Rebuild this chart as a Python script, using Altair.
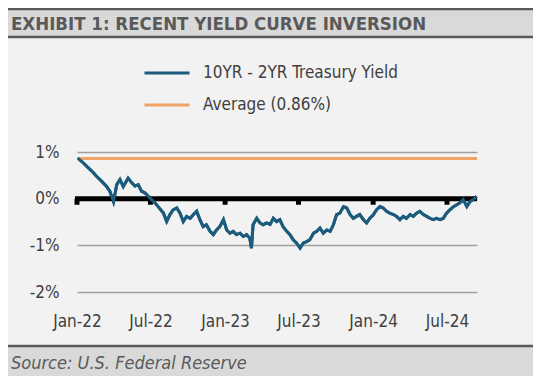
import altair as alt
import pandas as pd

# ---- data ----
dates = [
    "2022-01-03", "2022-01-16", "2022-01-29", "2022-02-10", "2022-02-18", "2022-03-03",
    "2022-03-15", "2022-03-23", "2022-04-01", "2022-04-09", "2022-04-17", "2022-04-25",
    "2022-05-07", "2022-05-16", "2022-05-24", "2022-06-01", "2022-06-09", "2022-06-18",
    "2022-06-30", "2022-07-12", "2022-07-20", "2022-08-02", "2022-08-10", "2022-08-18",
    "2022-08-26", "2022-09-04", "2022-09-12", "2022-09-20", "2022-09-28", "2022-10-07",
    "2022-10-15", "2022-10-23", "2022-10-31", "2022-11-08", "2022-11-16", "2022-11-25",
    "2022-12-03", "2022-12-11", "2022-12-19", "2022-12-28", "2023-01-05", "2023-01-13",
    "2023-01-21", "2023-01-29", "2023-02-07", "2023-02-15", "2023-02-23", "2023-03-03",
    "2023-03-07", "2023-03-11", "2023-03-20", "2023-03-28", "2023-04-05", "2023-04-13",
    "2023-04-22", "2023-04-30", "2023-05-08", "2023-05-16", "2023-05-24", "2023-06-02",
    "2023-06-10", "2023-06-18", "2023-06-26", "2023-07-05", "2023-07-13", "2023-07-21",
    "2023-07-29", "2023-08-07", "2023-08-15", "2023-08-23", "2023-08-31", "2023-09-09",
    "2023-09-17", "2023-09-25", "2023-10-03", "2023-10-11", "2023-10-20", "2023-10-28",
    "2023-11-05", "2023-11-13", "2023-11-21", "2023-11-29", "2023-12-08", "2023-12-16",
    "2023-12-24", "2024-01-01", "2024-01-09", "2024-01-18", "2024-01-26", "2024-02-03",
    "2024-02-11", "2024-02-20", "2024-02-28", "2024-03-07", "2024-03-15", "2024-03-23",
    "2024-04-01", "2024-04-09", "2024-04-17", "2024-04-25", "2024-05-04", "2024-05-12",
    "2024-05-20", "2024-05-28", "2024-06-05", "2024-06-14", "2024-06-22", "2024-06-30",
    "2024-07-08", "2024-07-17", "2024-07-25", "2024-08-02", "2024-08-10", "2024-08-19",
    "2024-08-27", "2024-09-04", "2024-09-12",
]
spread = [
    0.87, 0.77, 0.66, 0.56, 0.48, 0.37,
    0.26, 0.16, -0.06, 0.30, 0.41, 0.26,
    0.44, 0.34, 0.27, 0.30, 0.16, 0.12,
    0.01, -0.09, -0.17, -0.31, -0.49, -0.34,
    -0.24, -0.20, -0.31, -0.49, -0.38, -0.42,
    -0.34, -0.27, -0.45, -0.60, -0.56, -0.70,
    -0.77, -0.67, -0.60, -0.45, -0.67, -0.74,
    -0.70, -0.77, -0.74, -0.81, -0.77, -0.85,
    -1.06, -0.56, -0.42, -0.52, -0.56, -0.52,
    -0.55, -0.42, -0.49, -0.45, -0.60, -0.70,
    -0.77, -0.88, -0.95, -1.06, -0.95, -0.92,
    -0.88, -0.74, -0.70, -0.63, -0.74, -0.67,
    -0.70, -0.56, -0.34, -0.31, -0.17, -0.20,
    -0.34, -0.42, -0.38, -0.34, -0.45, -0.52,
    -0.42, -0.35, -0.24, -0.17, -0.20, -0.27,
    -0.31, -0.34, -0.38, -0.45, -0.38, -0.42,
    -0.34, -0.38, -0.31, -0.27, -0.34, -0.38,
    -0.42, -0.45, -0.42, -0.45, -0.42, -0.31,
    -0.24, -0.17, -0.13, -0.09, -0.02, -0.17,
    -0.06, -0.02, 0.05,
]
average_value = 0.86
tick_dates = ["2022-01-01", "2022-07-01", "2023-01-01", "2023-07-01", "2024-01-01", "2024-07-01"]
y_ticks = [-2, -1, 0, 1]
series_names = ["10YR - 2YR Treasury Yield", "Average (0.86%)"]
series_colors = ["#1d5b7c", "#f0a366"]
title_text = "EXHIBIT 1: RECENT YIELD CURVE INVERSION"
source_text = "Source: U.S. Federal Reserve"

FONT = "DejaVu Sans Condensed, Liberation Sans, sans-serif"
W, H = 400, 140
PAD_L, PAD_T = 69, 144
TOTAL_W, TOTAL_H = 525, 368

line_df = pd.DataFrame({"date": dates, "value": spread, "series": series_names[0]})
avg_df = pd.DataFrame({"value": [average_value], "series": [series_names[1]]})
tick_df = pd.DataFrame({"date": tick_dates})
one = pd.DataFrame({"k": [0]})

x_scale = alt.Scale(domain=["2022-01-01", "2024-09-13"], nice=False)
y_scale = alt.Scale(domain=[-2, 1], nice=False)
color_scale = alt.Scale(domain=series_names, range=series_colors)

legend = alt.Legend(
    title=None, orient="none", legendX=66, legendY=-103, direction="vertical",
    symbolType="stroke", symbolSize=2025, symbolStrokeWidth=3,
    labelFont=FONT, labelFontSize=17, labelColor="#404040", labelOffset=12,
    labelLimit=400, rowPadding=-15,
)

base_x = alt.X(
    "date:T", scale=x_scale, title=None,
    axis=alt.Axis(values=tick_dates, format="%b-%y", labelFont=FONT, labelFontSize=17,
                  labelColor="#404040", domain=False, ticks=False, grid=False,
                  labelPadding=21, labelFlush=False),
)
base_y = alt.Y(
    "value:Q", scale=y_scale, title=None,
    axis=alt.Axis(values=y_ticks, labelExpr="datum.value + '%'", labelFont=FONT,
                  labelFontSize=17, labelColor="#404040", domain=False, ticks=False,
                  grid=True, gridColor="#a0a0a0", gridWidth=1.5, labelPadding=18),
)

avg_rule = alt.Chart(avg_df).mark_rule(strokeWidth=3).encode(
    y=alt.Y("value:Q", scale=y_scale),
    color=alt.Color("series:N", scale=color_scale, legend=legend),
)

zero_rule = alt.Chart(one).mark_rule(color="black", strokeWidth=5).encode(
    y=alt.datum(0), x=alt.value(-2), x2=alt.value(W),
)

tick_marks = alt.Chart(tick_df).mark_rule(color="black", strokeWidth=5).encode(
    x=alt.X("date:T", scale=x_scale), y=alt.datum(0), y2=alt.datum(-0.13),
)

spread_line = alt.Chart(line_df).mark_line(strokeWidth=3).encode(
    x=base_x, y=base_y,
    color=alt.Color("series:N", scale=color_scale, legend=legend),
)

# decorative bands (header / footer)
head_band = alt.Chart(one).mark_rect(color="#d9d9d9").encode(
    x=alt.value(-PAD_L), x2=alt.value(TOTAL_W - PAD_L),
    y=alt.value(-PAD_T), y2=alt.value(-PAD_T + 30),
)
head_lines = alt.Chart(pd.DataFrame({"yy": [-PAD_T + 1, -PAD_T + 29]})).mark_rule(
    color="#595959", strokeWidth=2.5).encode(
    x=alt.value(-PAD_L), x2=alt.value(TOTAL_W - PAD_L), y=alt.Y("yy:Q", scale=None),
)
head_text = alt.Chart(one).mark_text(
    align="left", baseline="alphabetic", font=FONT, fontSize=18.5, fontWeight="bold",
    color="#595959").encode(
    x=alt.value(-PAD_L + 3), y=alt.value(-PAD_T + 22), text=alt.value(title_text),
)
foot_top = 193
foot_band = alt.Chart(one).mark_rect(color="#d9d9d9").encode(
    x=alt.value(-PAD_L), x2=alt.value(TOTAL_W - PAD_L),
    y=alt.value(foot_top), y2=alt.value(TOTAL_H - PAD_T),
)
foot_lines = alt.Chart(pd.DataFrame({"yy": [foot_top + 1]})).mark_rule(
    color="#595959", strokeWidth=2.5).encode(
    x=alt.value(-PAD_L), x2=alt.value(TOTAL_W - PAD_L), y=alt.Y("yy:Q", scale=None),
)
foot_text = alt.Chart(one).mark_text(
    align="left", baseline="alphabetic", font=FONT, fontSize=18, fontStyle="italic",
    color="#595959").encode(
    x=alt.value(-PAD_L + 3), y=alt.value(foot_top + 24), text=alt.value(source_text),
)

chart = alt.layer(
    head_band, head_lines, head_text, foot_band, foot_lines, foot_text,
    spread_line, avg_rule, zero_rule, tick_marks, spread_line,
).resolve_scale(color="shared").properties(
    width=W, height=H,
    autosize=alt.AutoSizeParams(type="none"),
    padding={"left": PAD_L, "top": PAD_T, "right": TOTAL_W - PAD_L - W, "bottom": TOTAL_H - PAD_T - H},
    background="#f2f2f2",
).configure_view(stroke=None)

chart.save("out.html", embed_options={"renderer": "svg", "actions": False})
